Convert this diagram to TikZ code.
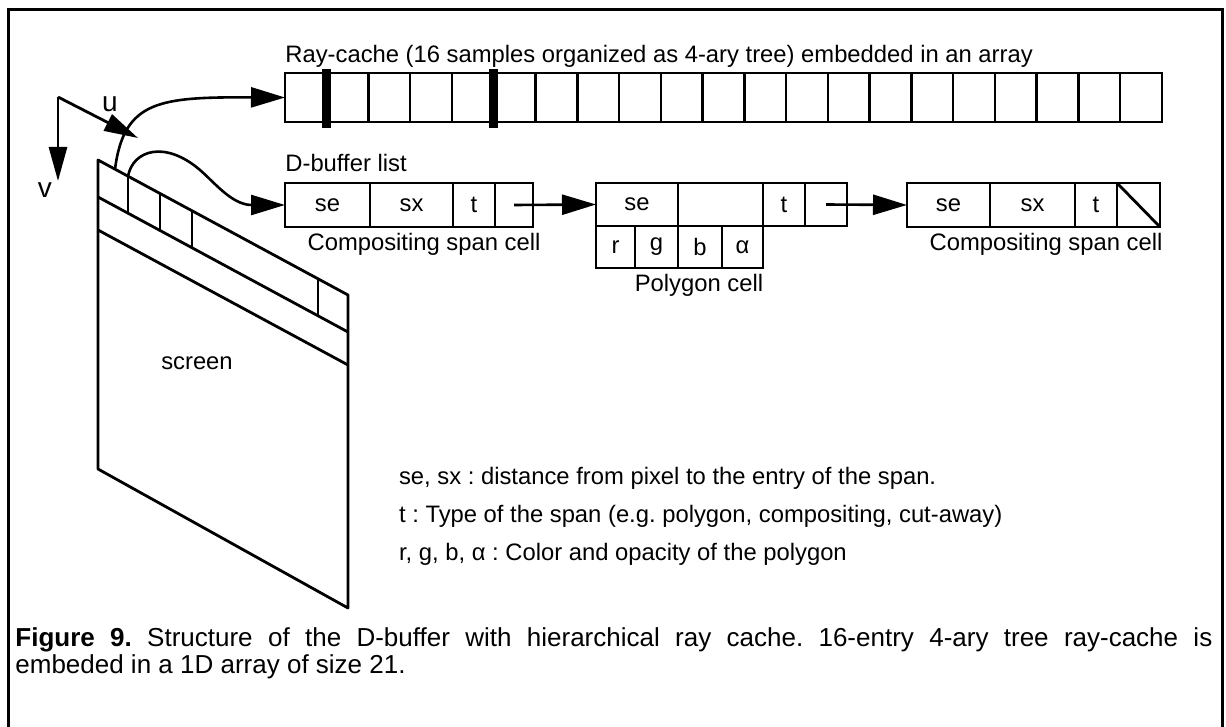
\documentclass[tikz,border=0pt]{standalone}
\usepackage{fontspec}
\setmainfont{Liberation Sans}
\usetikzlibrary{arrows.meta,calc}

\begin{document}
\frenchspacing
\begin{tikzpicture}[x=0.5pt,y=-0.5pt,
  every node/.style={font=\fontsize{11.9}{13.5}\selectfont},
  frame/.style={line width=1.5pt},
  cell/.style={draw,line width=1.2pt,inner sep=0pt,outer sep=0pt,
    minimum height=22pt,minimum width=#1*0.5pt,anchor=west},
  rcell/.style={cell=41.76,minimum height=24.5pt},
  marker/.style={line width=4.5pt},
  screenline/.style={line width=1.4pt,line join=round},
  link/.style={line width=1.3pt,-{Triangle[length=17pt,width=10pt]}},
  axis/.style={line width=1.4pt,-{Triangle[length=17pt,width=9pt]}}]
  \useasboundingbox (0,0) rectangle (1226,727);
  \draw[frame] (8,727) -- (8,10) -- (1222,10) -- (1222,727);

  % u,v axes
  \coordinate (o) at (58,97);
  \coordinate (uend) at (138,138);
  \coordinate (vend) at (58,181);
  \draw[axis] (o) -- (uend);
  \draw[axis] (o) -- (vend);
  \node (ulab) at (110,104) {\fontsize{14}{16}\selectfont u};
  \node (vlab) at (45,190) {\fontsize{14}{16}\selectfont v};

  % screen
  \coordinate (sa) at (98,160);
  \coordinate (sb) at (348,295);
  \coordinate (sc) at (348,608);
  \coordinate (sd) at (98,469);
  \coordinate (la) at (98,197);
  \coordinate (lb) at (348,332);
  \coordinate (ma) at (98,230);
  \coordinate (mb) at (348,365);
  \draw[screenline] (sa) -- (sb) -- (sc) -- (sd) -- cycle;
  \draw[screenline] (la) -- (lb) (ma) -- (mb);
  \foreach \t in {0.12,0.248,0.376,0.88}
    \draw[screenline] ($(sa)!\t!(sb)$) -- ($(la)!\t!(lb)$);
  \node (scr) at (197,363) {screen};

  % ray-cache array
  \node (rctitle) [anchor=west,inner sep=0pt] at (285,56)
    {Ray-cache (16 samples organized as 4-ary tree) embedded in an array};
  \foreach \i in {0,...,20}
    \node (rc\i) [rcell] at (285+41.76*\i,97.5) {};
  \draw[marker] ([yshift=2pt]rc0.north east) -- ([yshift=-3pt]rc0.south east);
  \draw[marker] ([yshift=2pt]rc4.north east) -- ([yshift=-3pt]rc4.south east);

  % D-buffer list
  \node (dlab) [anchor=west,inner sep=0pt] at (285,163) {D-buffer list};
  \node (cse) [cell=85] at (285,205) {se};
  \node (csx) [cell=83] at (370,205) {sx};
  \node (ct) [cell=42] at (453,205) {t};
  \node (cp) [cell=38] at (495,205) {};
  \node (clab) at (424,244) {Compositing span cell};

  \node (pse) [cell=82,minimum height=21.5pt] at (596,204.5) {se};
  \node (pnone) [cell=85,minimum height=21.5pt] at (678,204.5) {};
  \node (pt) [cell=42,minimum height=21.5pt] at (763,204.5) {t};
  \node (pp) [cell=42,minimum height=21.5pt] at (805,204.5) {};
  \node (pr) [cell=39,minimum height=21pt] at (596,247) {r};
  \node (pg) [cell=43,minimum height=21pt] at (635,247) {g};
  \node (pb) [cell=44,minimum height=21pt] at (678,247) {b};
  \node (pa) [cell=41,minimum height=21pt] at (722,247) {α};
  \node (plab) at (699,285) {Polygon cell};

  \node (ese) [cell=83] at (907,205) {se};
  \node (esx) [cell=85] at (990,205) {sx};
  \node (et) [cell=42] at (1075,205) {t};
  \node (ep) [cell=43] at (1117,205) {};
  \draw[line width=1.4pt] (ep.north west) -- (ep.south east);
  \node (elab) at (1046,244) {Compositing span cell};

  % links
  \coordinate (rayfoot) at (115,169.2);
  \coordinate (dfoot) at ($(sa)!0.12!(sb)$);
  \draw[link] (rayfoot) .. controls (124,100) and (160,97) .. (rc0.west);
  \draw[link] (dfoot) .. controls (133,150) and (165,140) .. (200,170)
    .. controls (214,182) and (232,205) .. (cse.west);
  \draw[link] (cp.center) -- (pse.west);
  \draw[link] (pp.center) -- (ese.west);

  % legend
  \node (leg1) [anchor=west] at (392,478) {se, sx : distance from pixel to the entry of the span.};
  \node (leg2) [anchor=west] at (392,516) {t : Type of the span (e.g. polygon, compositing, cut-away)};
  \node (leg3) [anchor=west] at (392,554) {r, g, b, α : Color and opacity of the polygon};

  % caption
  \node (cap) [anchor=north west,inner sep=0pt,text width=598.5pt,align=justify,
    font=\fontsize{13}{13.5}\selectfont] at (15,627)
    {\textbf{Figure 9.} Structure of the D-buffer with hierarchical ray cache. 16-entry 4-ary tree ray-cache is\linebreak embeded in a 1D array of size 21.};
\end{tikzpicture}
\end{document}
